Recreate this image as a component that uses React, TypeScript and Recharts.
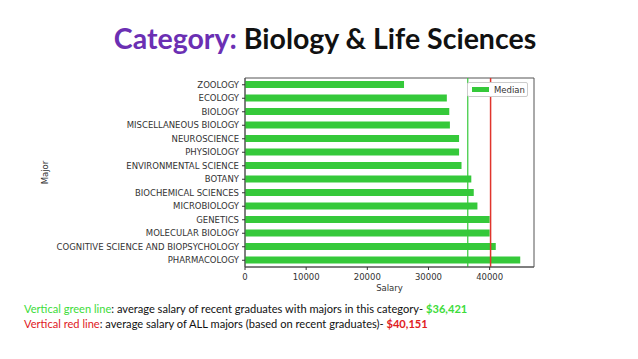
import {
  BarChart,
  Bar,
  XAxis,
  YAxis,
  ReferenceLine,
  ReferenceArea,
} from "recharts";

const majors = [
  "ZOOLOGY",
  "ECOLOGY",
  "BIOLOGY",
  "MISCELLANEOUS BIOLOGY",
  "NEUROSCIENCE",
  "PHYSIOLOGY",
  "ENVIRONMENTAL SCIENCE",
  "BOTANY",
  "BIOCHEMICAL SCIENCES",
  "MICROBIOLOGY",
  "GENETICS",
  "MOLECULAR BIOLOGY",
  "COGNITIVE SCIENCE AND BIOPSYCHOLOGY",
  "PHARMACOLOGY",
];

const medians = [
  26000, 33000, 33400, 33500, 35000, 35000, 35400, 37000, 37400, 38000, 40000,
  40000, 41000, 45000,
];

const xTicks = [0, 10000, 20000, 30000, 40000];
const categoryAvg = 36421;
const allAvg = 40151;

const data = majors.map((name, i) => ({ name, Median: medians[i] }));

const GREEN = "#35c93a";
const RED = "#e0342c";
const MPL_FONT = "'DejaVu Sans', sans-serif";

// plain svg tick so long names don't wrap
function YTick(props: any) {
  const { x, y, payload } = props;
  return (
    <text
      x={x}
      y={y}
      dy={3}
      textAnchor="end"
      fontSize={8.5}
      fill="#333"
      style={{ fontFamily: MPL_FONT }}
    >
      {payload.value}
    </text>
  );
}

function XTick(props: any) {
  const { x, y, payload } = props;
  return (
    <text
      x={x}
      y={y}
      dy={8}
      textAnchor="middle"
      fontSize={8.5}
      fill="#333"
      style={{ fontFamily: MPL_FONT }}
    >
      {payload.value}
    </text>
  );
}

export default function App() {
  return (
    <div
      style={{
        position: "absolute",
        left: 0,
        top: 0,
        width: 638,
        height: 359,
        background: "#fff",
        fontFamily: "Lato, 'Open Sans', sans-serif",
      }}
    >
      <div
        style={{
          position: "absolute",
          top: 22,
          left: 0,
          width: 650,
          textAlign: "center",
          fontSize: 28.5,
          fontWeight: 700,
          color: "#111",
          lineHeight: "32px",
        }}
      >
        <span style={{ color: "#6b2fb3" }}>Category:</span> Biology &amp; Life
        Sciences
      </div>

      <div style={{ position: "absolute", top: 0, left: 0 }}>
        <BarChart
          width={638}
          height={359}
          layout="vertical"
          data={data}
          margin={{ top: 78, right: 104, bottom: 72, left: 45 }}
          barCategoryGap={0}
        >
          <XAxis
            type="number"
            domain={[0, 47250]}
            ticks={xTicks}
            tick={<XTick />}
            tickSize={3}
            tickLine={{ stroke: "#333" }}
            axisLine={{ stroke: "#555" }}
            height={20}
            label={{
              value: "Salary",
              position: "insideBottom",
              offset: -4,
              style: { fontSize: 8.5, fill: "#333", fontFamily: MPL_FONT },
            }}
          />
          <YAxis
            type="category"
            dataKey="name"
            width={200}
            tick={<YTick />}
            tickSize={3}
            tickMargin={3}
            tickLine={{ stroke: "#333" }}
            axisLine={{ stroke: "#555" }}
            interval={0}
            label={{
              value: "Major",
              angle: -90,
              position: "insideLeft",
              offset: 0,
              style: { fontSize: 8.5, fill: "#333", fontFamily: MPL_FONT, textAnchor: "middle" },
            }}
          />
          <ReferenceArea
            x1={0}
            x2={47250}
            fill="none"
            stroke="#555"
            strokeWidth={1}
            ifOverflow="visible"
          />
          <Bar
            dataKey="Median"
            fill={GREEN}
            barSize={7}
            isAnimationActive={false}
          />
          <ReferenceLine x={categoryAvg} stroke={GREEN} strokeWidth={1.2} />
          <ReferenceLine x={allAvg} stroke={RED} strokeWidth={1.5} />
        </BarChart>
      </div>

      {/* legend box, top right inside the axes */}
      <div
        style={{
          position: "absolute",
          top: 82,
          left: 467,
          width: 61,
          height: 15,
          boxSizing: "border-box",
          border: "1px solid #ccc",
          borderRadius: 2,
          background: "#fff",
          display: "flex",
          alignItems: "center",
          paddingLeft: 4,
          fontFamily: MPL_FONT,
          fontSize: 8.5,
          color: "#333",
        }}
      >
        <span
          style={{
            display: "inline-block",
            width: 17,
            height: 5,
            background: GREEN,
            marginRight: 5,
          }}
        />
        Median
      </div>

      <div
        style={{
          position: "absolute",
          top: 301,
          left: 24,
          fontSize: 11.1,
          lineHeight: "15px",
          color: "#111",
        }}
      >
        <div>
          <span style={{ color: "#3ddc3a" }}>Vertical green line</span>: average
          salary of recent graduates with majors in this category-{" "}
          <span style={{ color: "#3ddc3a", fontWeight: 700 }}>$36,421</span>
        </div>
        <div>
          <span style={{ color: "#e0201e" }}>Vertical red line</span>: average
          salary of ALL majors (based on recent graduates)-{" "}
          <span style={{ color: "#e0201e", fontWeight: 700 }}>$40,151</span>
        </div>
      </div>
    </div>
  );
}
